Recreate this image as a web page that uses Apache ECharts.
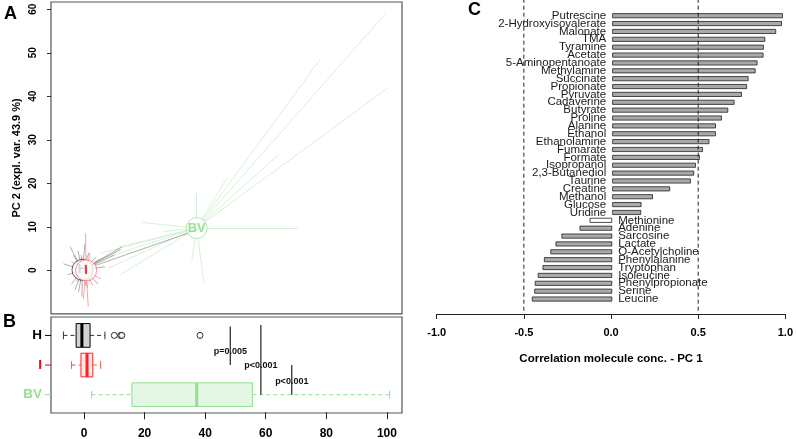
<!DOCTYPE html>
<html>
<head>
<meta charset="utf-8">
<script src="https://cdn.jsdelivr.net/npm/echarts@6/dist/echarts.min.js"></script>
<style>
  html, body { margin: 0; padding: 0; background: #fff; }
  #chart { width: 796px; height: 439px; }
</style>
</head>
<body>
<div id="chart"></div>
<script>
// ---- panel A: PCA scores (PC1, PC2) ----
var groups = ['H', 'I', 'BV'];
var groupCenters = [[-0.5, 0.1], [0.7, 0.0], [37.2, 9.7]];
var pointsH = [
  [-6.8, 1.5], [-5.5, -1.0], [-4.6, 5.4], [-4.1, -3.1], [-3.5, 3.5], [-3.0, -4.5],
  [-2.6, 2.0], [-2.4, -2.0], [-2.0, 4.5], [-1.8, -5.0], [-1.5, 0.8], [-1.2, -2.8],
  [-0.9, 3.0], [-0.7, -6.0], [-0.6, 1.2], [-0.3, -1.5], [0.3, 6.1], [0.5, -3.5],
  [0.9, 2.5], [1.2, -4.0], [1.6, 4.0], [2.0, -2.5], [2.5, 1.0], [3.2, -1.8],
  [4.0, 3.0], [4.7, -3.1], [5.3, 2.4], [6.9, 0.8], [10.0, 3.5], [12.1, 4.8],
  [12.5, 5.4], [38.3, 9.5]
];
var pointsI = [
  [-4.1, 2.0], [-2.5, -2.5], [-1.0, 3.5], [-0.2, -6.5], [0.5, 8.5], [1.0, -1.5],
  [1.4, -8.4], [2.0, 4.0], [2.9, -3.5], [4.0, 1.5], [5.5, -2.0]
];
var pointsBV = [
  [99.4, 58.9], [100.5, 42.0], [78.0, 48.5], [64.5, 26.7], [47.1, 21.1], [37.2, 17.7],
  [70.8, 9.7], [19.1, 11.0], [26.2, 8.9], [39.6, -3.0], [35.6, 2.4], [12.0, -1.0],
  [5.3, 3.9], [11.9, 5.4], [8.0, 0.5], [3.0, 2.0]
];

// ---- panel B: PC1 box plots [low whisker, Q1, median, Q3, high whisker] ----
var boxStats = [
  [-6.8, -2.6, -0.7, 2.0, 6.9],
  [-4.1, -1.0, 1.0, 2.9, 5.5],
  [2.5, 15.8, 37.2, 55.6, 100.9]
];
var outliersH = [10.0, 12.1, 12.5, 38.3];
// [x, from group, to group, label position] (group index, 0 = H)
var pTests = [
  [48.3, -0.3, 1.0, 0.53],
  [58.4, -0.35, 2.0, 1.03],
  [68.6, 1.0, 2.0, 1.54]
];
var pLabels = ['p=0.005', 'p<0.001', 'p<0.001'];

// ---- panel C: correlation with PC 1 ----
var molecules = ['Putrescine', '2-Hydroxyisovalerate', 'Malonate', 'TMA', 'Tyramine', 'Acetate',
  '5-Aminopentanoate', 'Methylamine', 'Succinate', 'Propionate', 'Pyruvate', 'Cadaverine',
  'Butyrate', 'Proline', 'Alanine', 'Ethanol', 'Ethanolamine', 'Fumarate', 'Formate',
  'Isopropanol', '2,3-Butanediol', 'Taurine', 'Creatine', 'Methanol', 'Glucose', 'Uridine',
  'Methionine', 'Adenine', 'Sarcosine', 'Lactate', 'O-Acetylcholine', 'Phenylalanine',
  'Tryptophan', 'Isoleucine', 'Phenylpropionate', 'Serine', 'Leucine'];
var correlations = [0.973, 0.967, 0.934, 0.872, 0.864, 0.862, 0.828, 0.817, 0.777, 0.768,
  0.739, 0.697, 0.661, 0.625, 0.591, 0.591, 0.554, 0.517, 0.499, 0.477, 0.467, 0.448,
  0.330, 0.232, 0.167, 0.165, -0.129, -0.186, -0.289, -0.323, -0.352, -0.389, -0.397,
  -0.424, -0.441, -0.444, -0.458];
var refLines = [-0.5, 0.5];

// styles
var spiderColors = ['#8c8c8c', '#ff8a8a', '#c6ebc6'];
var centerBorder = ['#333333', '#ff7070', '#9be39b'];
var labelColors = ['#000000', '#ff0000', '#80d880'];
var boxBorder = ['#000000', '#ff2020', '#90e090'];
var boxFill = ['#d3d3d3', '#ffe8e8', '#e4f6e4'];
var whiskerColors = ['#333333', '#e0603a', '#90e090'];
var FONT = '"Liberation Sans", Arial, sans-serif';

var chart = echarts.init(document.getElementById('chart'));

function spider(gi, pts, opacity) {
  return {
    type: 'lines', coordinateSystem: 'cartesian2d', xAxisIndex: 1, yAxisIndex: 1,
    silent: true, z: 2, clip: false,
    lineStyle: { color: spiderColors[gi], width: 1, opacity: opacity, curveness: 0 },
    data: pts.map(function (p) { return { coords: [groupCenters[gi], p] }; })
  };
}

function centerMark(gi) {
  return {
    type: 'scatter', xAxisIndex: 1, yAxisIndex: 1, z: 5 + gi, silent: true, clip: false,
    symbolSize: 21,
    itemStyle: { color: '#fff', borderWidth: 1, borderColor: centerBorder[gi] },
    label: {
      show: true, position: 'inside', formatter: groups[gi],
      fontWeight: 'bold', fontSize: 13, color: labelColors[gi]
    },
    labelLayout: { hideOverlap: false },
    data: [groupCenters[gi]]
  };
}

function hiddenAxis(grid, min, max) {
  return {
    gridIndex: grid, type: 'value', min: min, max: max, show: false,
    axisLine: { show: false, onZero: false }, axisTick: { show: false }, axisLabel: { show: false }
  };
}

var option = {
  animation: false,
  textStyle: { fontFamily: FONT },
  graphic: [
    { type: 'text', style: { x: 4, y: 14, text: 'A', font: 'bold 18px ' + FONT, fill: '#000', verticalAlign: 'middle' } },
    { type: 'text', style: { x: 3, y: 322, text: 'B', font: 'bold 18px ' + FONT, fill: '#000', verticalAlign: 'middle' } },
    { type: 'text', style: { x: 468, y: 10, text: 'C', font: 'bold 18px ' + FONT, fill: '#000', verticalAlign: 'middle' } }
  ],
  grid: [
    { left: 51, top: 2, width: 351, height: 311.8, show: true, borderColor: '#555', borderWidth: 1.2 },
    { left: 51, top: 9.3, width: 351, height: 261 },
    { left: 51, top: 317, width: 351, height: 96, show: true, borderColor: '#555', borderWidth: 1.2 },
    { left: 51, top: 320.6, width: 351, height: 88.9 },
    { left: 84, top: 412, width: 302.9, height: 1 },
    { left: 436.7, top: 11.77, width: 351, height: 291.2 },
    { left: 436.7, top: 0, width: 351, height: 310.7 }
  ],
  xAxis: [
    hiddenAxis(0, -10.9, 105),
    hiddenAxis(1, -10.9, 105),
    hiddenAxis(2, -10.9, 105),
    hiddenAxis(3, -10.9, 105),
    {
      gridIndex: 4, type: 'value', min: 0, max: 100, interval: 20,
      axisLine: { show: false, onZero: false },
      axisTick: { show: true, length: 7, lineStyle: { color: '#222' } },
      axisLabel: { margin: 15, fontSize: 12, fontWeight: 'bold', color: '#000' },
      splitLine: { show: false }
    },
    hiddenAxis(5, -1, 1),
    {
      gridIndex: 6, type: 'value', min: -1, max: 1, interval: 0.5, offset: 3.3,
      name: 'Correlation molecule conc. - PC 1', nameLocation: 'middle', nameGap: 39,
      nameTextStyle: { fontSize: 11.5, fontWeight: 'bold', color: '#000' },
      axisLine: { show: true, onZero: false, lineStyle: { color: '#222', width: 1 } },
      axisTick: { show: true, length: 5, lineStyle: { color: '#222' } },
      axisLabel: {
        margin: 13, fontSize: 11, fontWeight: 'bold', color: '#000',
        formatter: function (v) { return v.toFixed(1); }
      },
      splitLine: { show: false }
    }
  ],
  yAxis: [
    {
      gridIndex: 0, type: 'value', min: -10, max: 61.7,
      name: 'PC 2 (expl. var. 43.9 %)', nameLocation: 'middle', nameGap: 28.5,
      nameTextStyle: { fontSize: 11, fontWeight: 'bold', color: '#000' },
      axisLine: { show: false, onZero: false }, axisTick: { show: false },
      axisLabel: { show: false }, splitLine: { show: false }
    },
    {
      gridIndex: 1, type: 'value', min: 0, max: 60, interval: 10,
      axisLine: { show: false, onZero: false },
      axisTick: { show: true, length: 4, lineStyle: { color: '#333' } },
      axisLabel: { rotate: 90, margin: 13, fontSize: 10, fontWeight: 'bold', color: '#000' },
      splitLine: { show: false }
    },
    hiddenAxis(2, 0, 1),
    {
      gridIndex: 3, type: 'category', data: groups, inverse: true,
      axisLine: { show: false, onZero: false },
      axisTick: { show: false },
      axisLabel: {
        margin: 9, fontSize: 13.5, fontWeight: 'bold',
        formatter: function (v, i) { return '{g' + i + '|' + v + '}'; },
        rich: {
          g0: { color: labelColors[0], fontSize: 13.5, fontWeight: 'bold' },
          g1: { color: labelColors[1], fontSize: 13.5, fontWeight: 'bold' },
          g2: { color: '#90e090', fontSize: 13.5, fontWeight: 'bold' }
        }
      },
      splitLine: { show: false }
    },
    hiddenAxis(4, 0, 1),
    { gridIndex: 5, type: 'category', data: molecules, inverse: true, show: false },
    hiddenAxis(6, 0, 1)
  ],
  series: [
    spider(2, pointsBV, 0.7),
    spider(0, pointsH, 0.7),
    spider(1, pointsI, 0.8),
    centerMark(0),
    centerMark(1),
    centerMark(2),
    {
      type: 'custom', xAxisIndex: 3, yAxisIndex: 3, z: 3, silent: true, clip: false,
      data: boxStats.map(function (s, i) { return [i].concat(s); }),
      encode: { x: [1, 2, 3, 4, 5], y: 0 },
      renderItem: function (params, api) {
        var i = params.dataIndex;
        var y = api.value(0);
        var lo = api.coord([api.value(1), y]);
        var q1 = api.coord([api.value(2), y]);
        var md = api.coord([api.value(3), y]);
        var q3 = api.coord([api.value(4), y]);
        var hi = api.coord([api.value(5), y]);
        var band = Math.abs(api.size([0, 1])[1]);
        var h = band * 0.4;
        var c = band * 0.13;
        var left = params.coordSys.x;
        var dash = { stroke: whiskerColors[i], lineWidth: 1, lineDash: [4, 3] };
        var solid = { stroke: whiskerColors[i], lineWidth: 1 };
        return {
          type: 'group',
          children: [
            // group-coloured axis tick
            { type: 'line', shape: { x1: left - 6, y1: lo[1], x2: left, y2: lo[1] }, style: { stroke: labelColors[i] === '#80d880' ? '#90e090' : labelColors[i], lineWidth: 1 } },
            { type: 'line', shape: { x1: lo[0], y1: lo[1], x2: q1[0], y2: lo[1] }, style: dash },
            { type: 'line', shape: { x1: q3[0], y1: lo[1], x2: hi[0], y2: lo[1] }, style: dash },
            { type: 'line', shape: { x1: lo[0], y1: lo[1] - c, x2: lo[0], y2: lo[1] + c }, style: solid },
            { type: 'line', shape: { x1: hi[0], y1: hi[1] - c, x2: hi[0], y2: hi[1] + c }, style: solid },
            {
              type: 'rect', shape: { x: q1[0], y: q1[1] - h, width: q3[0] - q1[0], height: 2 * h },
              style: { fill: boxFill[i], stroke: boxBorder[i], lineWidth: 1 }
            },
            { type: 'line', shape: { x1: md[0], y1: md[1] - h, x2: md[0], y2: md[1] + h }, style: { stroke: boxBorder[i], lineWidth: 3 } }
          ]
        };
      }
    },
    {
      type: 'scatter', xAxisIndex: 3, yAxisIndex: 3, z: 4, silent: true,
      symbol: 'circle', symbolSize: 6,
      itemStyle: { color: '#fff', borderColor: '#000', borderWidth: 1 },
      data: outliersH.map(function (x) { return [x, 0]; })
    },
    {
      type: 'custom', xAxisIndex: 3, yAxisIndex: 3, z: 4, silent: true, clip: false,
      data: pTests,
      encode: { x: 0, y: [1, 2, 3] },
      renderItem: function (params, api) {
        var x = api.value(0);
        var px = api.coord([x, 0])[0];
        var y0 = api.coord([x, 0])[1];
        var band = Math.abs(api.size([0, 1])[1]);
        var ya = y0 + api.value(1) * band;
        var yb = y0 + api.value(2) * band;
        var yt = y0 + api.value(3) * band;
        return {
          type: 'group',
          children: [
            { type: 'line', shape: { x1: px, y1: ya, x2: px, y2: yb }, style: { stroke: '#222', lineWidth: 1.2 } },
            {
              type: 'text', z2: 10,
              style: {
                x: px, y: yt, text: pLabels[params.dataIndex], align: 'center', verticalAlign: 'middle',
                font: 'bold 9px ' + FONT, fill: '#111'
              }
            }
          ]
        };
      }
    },
    {
      type: 'bar', xAxisIndex: 5, yAxisIndex: 5, silent: true, barWidth: 5,
      itemStyle: { color: '#a9a9a9', borderColor: '#222', borderWidth: 0.8 },
      label: { show: true, formatter: '{b}', distance: 6, fontSize: 11.5, color: '#1a1a1a' },
      data: correlations.map(function (v, i) {
        return {
          value: v,
          itemStyle: molecules[i] === 'Methionine' ? { color: '#fff' } : undefined,
          label: { position: v >= 0 ? 'left' : 'right' }
        };
      })
    }
  ].concat(refLines.map(function (v) {
    return {
      type: 'line', xAxisIndex: 6, yAxisIndex: 6, silent: true, showSymbol: false,
      lineStyle: { color: '#222', width: 1, type: [4, 3] },
      data: [[v, 0], [v, 1]]
    };
  }))
};

chart.setOption(option);
</script>
</body>
</html>
